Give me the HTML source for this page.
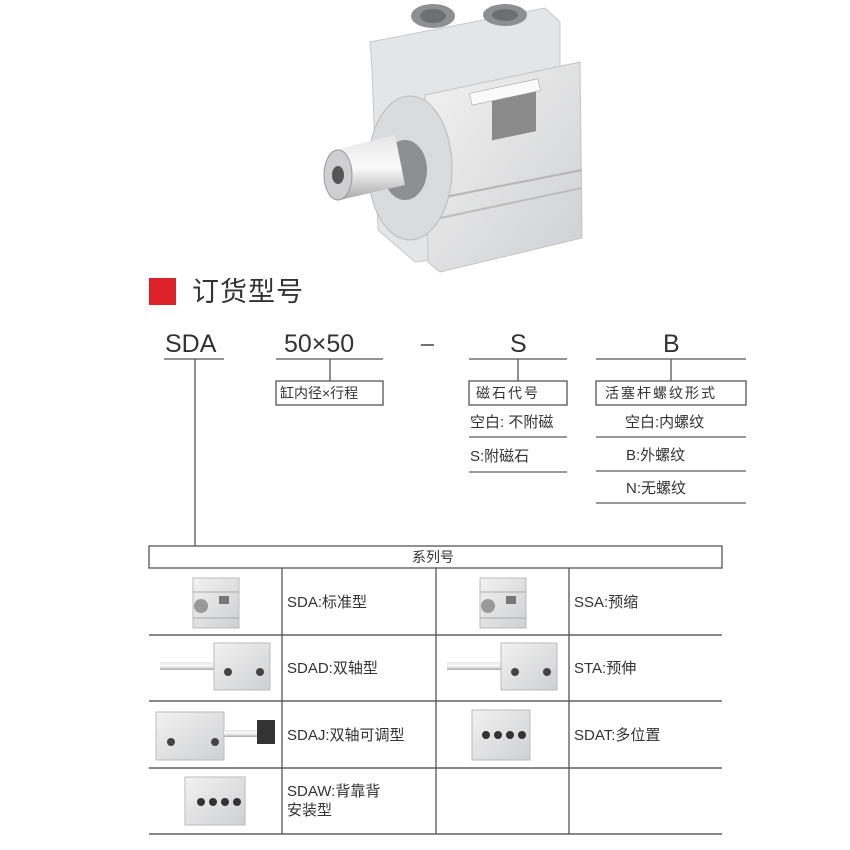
<!DOCTYPE html>
<html><head><meta charset="utf-8"><style>
html,body{margin:0;padding:0;background:#fff;}
body{width:850px;height:850px;position:relative;overflow:hidden;font-family:"Liberation Sans","Noto Sans CJK SC",sans-serif;color:#333;}
.t{position:absolute;white-space:nowrap;line-height:1;}
</style></head><body>
<svg width="850" height="850" style="position:absolute;left:0;top:0" xmlns="http://www.w3.org/2000/svg">
<defs>
<linearGradient id="g1" x1="0" y1="0" x2="1" y2="1"><stop offset="0" stop-color="#f2f2f2"/><stop offset="1" stop-color="#cfd0d2"/></linearGradient>
<linearGradient id="g2" x1="0" y1="0" x2="0" y2="1"><stop offset="0" stop-color="#e6e6e6"/><stop offset=".5" stop-color="#fafafa"/><stop offset="1" stop-color="#a9a9a9"/></linearGradient>
<g id="blk">
<rect x="0" y="0" width="46" height="50" fill="url(#g1)" stroke="#bbb"/>
<line x1="0" y1="14" x2="46" y2="14" stroke="#aaa"/>
<line x1="0" y1="40" x2="46" y2="40" stroke="#aaa"/>
</g>
</defs>
<!-- main cylinder -->
<polygon points="370,42 545,8 560,22 560,70 440,100 430,260 415,262 378,230 372,70" fill="#e4e5e7" stroke="#c8c8c8"/>
<polygon points="425,95 580,62 582,238 440,272 428,262" fill="url(#g1)" stroke="#c4c4c4"/>
<line x1="440" y1="198" x2="582" y2="170" stroke="#b5b5b5" stroke-width="2"/>
<line x1="440" y1="218" x2="582" y2="188" stroke="#bdbdbd" stroke-width="2"/>
<ellipse cx="433" cy="16" rx="22" ry="12" fill="#8d8f92"/><ellipse cx="433" cy="16" rx="13" ry="7" fill="#6d6f72"/>
<ellipse cx="505" cy="18" rx="22" ry="11" fill="#8d8f92" transform="translate(0,-3)"/><ellipse cx="505" cy="15" rx="13" ry="6" fill="#6d6f72"/>
<ellipse cx="410" cy="168" rx="42" ry="72" fill="#dadbdd" stroke="#bbb"/>
<ellipse cx="405" cy="170" rx="22" ry="30" fill="#8e8f92"/>
<polygon points="335,150 395,135 405,185 340,200" fill="url(#g2)"/>
<ellipse cx="338" cy="175" rx="14" ry="25" fill="#cfcfd1" stroke="#999"/>
<ellipse cx="338" cy="175" rx="6" ry="9" fill="#555"/>
<rect x="492" y="100" width="44" height="40" fill="#8a8a8a" transform="skewY(-12) translate(0,105)"/>
<rect x="470" y="86" width="70" height="12" fill="#fafafa" stroke="#999" stroke-width=".5" transform="rotate(-12 505 92)"/>
<!-- title -->
<rect x="149" y="278" width="27" height="27" fill="#dd2128"/>
<g stroke="#555" stroke-width="1.3" fill="none">
<line x1="164" y1="359" x2="224" y2="359"/><line x1="195" y1="359" x2="195" y2="546"/>
<line x1="276" y1="359" x2="383" y2="359"/><line x1="330" y1="359" x2="330" y2="381"/>
<rect x="276" y="381" width="107" height="24"/>
<line x1="469" y1="359" x2="567" y2="359"/><line x1="518" y1="359" x2="518" y2="381"/>
<rect x="469" y="381" width="98" height="24"/>
<line x1="469" y1="437" x2="567" y2="437" stroke="#999" stroke-width="2"/>
<line x1="469" y1="472" x2="567" y2="472" stroke="#999" stroke-width="2"/>
<line x1="596" y1="359" x2="746" y2="359"/><line x1="671" y1="359" x2="671" y2="381"/>
<rect x="596" y="381" width="150" height="24"/>
<line x1="596" y1="437" x2="746" y2="437" stroke="#999" stroke-width="2"/>
<line x1="596" y1="471" x2="746" y2="471" stroke="#999" stroke-width="2"/>
<line x1="596" y1="503" x2="746" y2="503" stroke="#999" stroke-width="2"/>
<rect x="149" y="546" width="573" height="22"/>
<line x1="149" y1="635" x2="722" y2="635" stroke="#888" stroke-width="2"/>
<line x1="149" y1="701" x2="722" y2="701" stroke="#888" stroke-width="2"/>
<line x1="149" y1="768" x2="722" y2="768" stroke="#888" stroke-width="2"/>
<line x1="149" y1="834" x2="722" y2="834" stroke="#888" stroke-width="2"/>
<line x1="282" y1="568" x2="282" y2="834"/><line x1="436" y1="568" x2="436" y2="834"/><line x1="569" y1="568" x2="569" y2="834"/>
</g>
<line x1="421" y1="345" x2="434" y2="345" stroke="#444" stroke-width="1.5"/>
<!-- thumbs -->
<g transform="translate(193,578)"><use href="#blk"/><circle cx="8" cy="28" r="7" fill="#999"/><rect x="26" y="18" width="10" height="8" fill="#777"/></g>
<g transform="translate(480,578)"><use href="#blk"/><circle cx="8" cy="28" r="7" fill="#999"/><rect x="26" y="18" width="10" height="8" fill="#777"/></g>
<rect x="160" y="662" width="56" height="8" fill="url(#g2)"/><rect x="214" y="643" width="56" height="47" fill="url(#g1)" stroke="#bbb"/><circle cx="228" cy="672" r="4" fill="#444"/><circle cx="260" cy="672" r="4" fill="#444"/>
<rect x="447" y="662" width="56" height="8" fill="url(#g2)"/><rect x="501" y="643" width="56" height="47" fill="url(#g1)" stroke="#bbb"/><circle cx="515" cy="672" r="4" fill="#444"/><circle cx="547" cy="672" r="4" fill="#444"/>
<rect x="156" y="712" width="68" height="48" fill="url(#g1)" stroke="#bbb"/><rect x="224" y="730" width="35" height="7" fill="url(#g2)"/><rect x="257" y="720" width="18" height="24" fill="#333"/><circle cx="171" cy="742" r="4" fill="#444"/><circle cx="215" cy="742" r="4" fill="#444"/>
<rect x="472" y="710" width="58" height="50" fill="url(#g1)" stroke="#bbb"/><circle cx="486" cy="735" r="4" fill="#333"/><circle cx="498" cy="735" r="4" fill="#333"/><circle cx="510" cy="735" r="4" fill="#333"/><circle cx="522" cy="735" r="4" fill="#333"/>
<rect x="185" y="777" width="60" height="48" fill="url(#g1)" stroke="#bbb"/><circle cx="201" cy="802" r="4" fill="#333"/><circle cx="213" cy="802" r="4" fill="#333"/><circle cx="225" cy="802" r="4" fill="#333"/><circle cx="237" cy="802" r="4" fill="#333"/>
</svg>
<div class="t" style="left:192px;top:279px;font-size:27px;letter-spacing:1px;">订货型号</div>
<div class="t" style="left:165px;top:332px;font-size:25px;">SDA</div>
<div class="t" style="left:284px;top:332px;font-size:25px;">50×50</div>
<div class="t" style="left:510px;top:332px;font-size:25px;">S</div>
<div class="t" style="left:663px;top:332px;font-size:25px;">B</div>
<div class="t" style="left:280px;top:386px;font-size:14px;">缸内径×行程</div>
<div class="t" style="left:476px;top:386px;font-size:14px;letter-spacing:2px;">磁石代号</div>
<div class="t" style="left:605px;top:386px;font-size:14px;letter-spacing:2px;">活塞杆螺纹形式</div>
<div class="t" style="left:470px;top:415px;font-size:15px;">空白: 不附磁</div>
<div class="t" style="left:470px;top:449px;font-size:15px;">S:附磁石</div>
<div class="t" style="left:625px;top:415px;font-size:15px;">空白:内螺纹</div>
<div class="t" style="left:626px;top:448px;font-size:15px;">B:外螺纹</div>
<div class="t" style="left:626px;top:481px;font-size:15px;">N:无螺纹</div>
<div class="t" style="left:412px;top:550px;font-size:14px;">系列号</div>
<div class="t" style="left:287px;top:595px;font-size:15px;">SDA:标准型</div>
<div class="t" style="left:574px;top:595px;font-size:15px;">SSA:预缩</div>
<div class="t" style="left:287px;top:661px;font-size:15px;">SDAD:双轴型</div>
<div class="t" style="left:574px;top:661px;font-size:15px;">STA:预伸</div>
<div class="t" style="left:287px;top:728px;font-size:15px;">SDAJ:双轴可调型</div>
<div class="t" style="left:574px;top:728px;font-size:15px;">SDAT:多位置</div>
<div class="t" style="left:287px;top:784px;font-size:15px;">SDAW:背靠背</div>
<div class="t" style="left:287px;top:803px;font-size:15px;">安装型</div>
</body></html>
